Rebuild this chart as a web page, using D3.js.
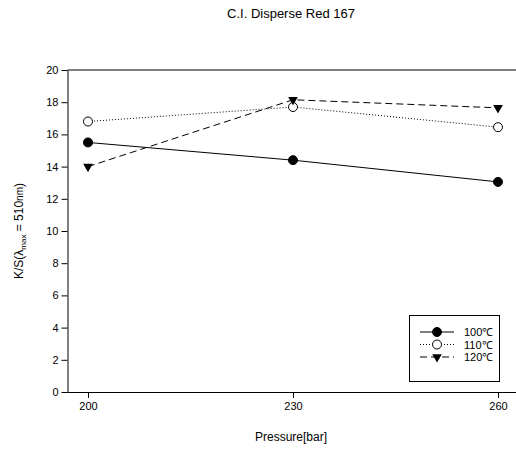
<!DOCTYPE html>
<html>
<head>
<meta charset="utf-8">
<script src="https://d3js.org/d3.v7.min.js"></script>
<style>
body { margin: 0; background: #fff; }
text { font-family: Arial, "Liberation Sans", sans-serif; fill: #000; }
</style>
</head>
<body>
<script>
var width = 516, height = 449

var pressures = [200, 230, 260]
var seriesNames = ["100\u2103", "110\u2103", "120\u2103"]
var s100 = [15.5, 14.4, 13.05]
var s110 = [16.8, 17.7, 16.45]
var s120 = [14.0, 18.15, 17.65]
var yTicks = [0, 2, 4, 6, 8, 10, 12, 14, 16, 18, 20]

var series = [
  {name: seriesNames[0], values: s100, dash: null, marker: "filled"},
  {name: seriesNames[1], values: s110, dash: "1,2", marker: "open"},
  {name: seriesNames[2], values: s120, dash: "7,4", marker: "tri"}
]

var svg = d3.select("body").append("svg")
  .attr("width", width)
  .attr("height", height)

var plotL = 67.5, plotR = 516, plotT = 70, plotB = 392

var x = d3.scaleLinear().domain([200, 260]).range([88, 498])
var y = d3.scaleLinear().domain([0, 20]).range([plotB, plotT])

// title
svg.append("text").attr("x", 291).attr("y", 18).attr("text-anchor", "middle")
  .style("font-size", "13px").text("C.I. Disperse Red 167")

// top frame line
svg.append("line").attr("x1", plotL).attr("x2", plotR).attr("y1", plotT).attr("y2", plotT)
  .attr("stroke", "#000").attr("stroke-width", 1)

var yAxis = svg.append("g").attr("transform", "translate(" + plotL + ",0)")
  .call(d3.axisLeft(y).tickValues(yTicks).tickSize(6).tickSizeOuter(0).tickPadding(3))
var xAxis = svg.append("g").attr("transform", "translate(0," + plotB + ")")
  .call(d3.axisBottom(x).tickValues(pressures).tickSize(6).tickSizeOuter(0).tickPadding(4))
xAxis.select(".domain").attr("d", "M" + plotL + ",0.5H" + plotR)
yAxis.selectAll("text").style("font-size", "11px").style("font-family", "Arial, 'Liberation Sans', sans-serif")
xAxis.selectAll("text").style("font-size", "11px").style("font-family", "Arial, 'Liberation Sans', sans-serif")

// axis titles
svg.append("text").attr("x", 291).attr("y", 441).attr("text-anchor", "middle")
  .style("font-size", "12px").text("Pressure[bar]")

var yl = svg.append("text").attr("transform", "translate(23,231) rotate(-90)")
  .attr("text-anchor", "middle").style("font-size", "12px")
yl.append("tspan").text("K/S(\u03bb")
yl.append("tspan").attr("dy", 3).style("font-size", "8px").text("max")
yl.append("tspan").attr("dy", -3).text(" = 510")
yl.append("tspan").style("font-size", "10px").text("nm")
yl.append("tspan").text(")")

var line = d3.line().x((d, i) => x(pressures[i])).y(d => y(d))

function drawMarker(g, type, cx, cy) {
  if (type === "tri") {
    g.append("path").attr("d", d3.symbol().type(d3.symbolTriangle).size(40)())
      .attr("transform", "translate(" + cx + "," + cy + ") rotate(180)")
      .attr("fill", "#000")
  } else {
    g.append("circle").attr("cx", cx).attr("cy", cy).attr("r", 4.5)
      .attr("fill", type === "filled" ? "#000" : "#fff")
      .attr("stroke", "#000").attr("stroke-width", 1)
  }
}

series.forEach(function(s) {
  svg.append("path").datum(s.values).attr("d", line)
    .attr("fill", "none").attr("stroke", "#000").attr("stroke-width", 1)
    .attr("stroke-dasharray", s.dash)
  var g = svg.append("g")
  s.values.forEach(function(v, i) { drawMarker(g, s.marker, x(pressures[i]), y(v)) })
})

// legend
var lg = svg.append("g")
lg.append("rect").attr("x", 409.5).attr("y", 315.5).attr("width", 90).attr("height", 66)
  .attr("fill", "#fff").attr("stroke", "#000").attr("stroke-width", 1)
series.forEach(function(s, i) {
  var ry = 332 + i * 12.5
  lg.append("line").attr("x1", 420).attr("x2", 454).attr("y1", ry).attr("y2", ry)
    .attr("stroke", "#000").attr("stroke-width", 1).attr("stroke-dasharray", s.dash)
  drawMarker(lg, s.marker, 437, ry)
  lg.append("text").attr("x", 464).attr("y", ry + 4).style("font-size", "11px").text(s.name)
})
</script>
</body>
</html>
